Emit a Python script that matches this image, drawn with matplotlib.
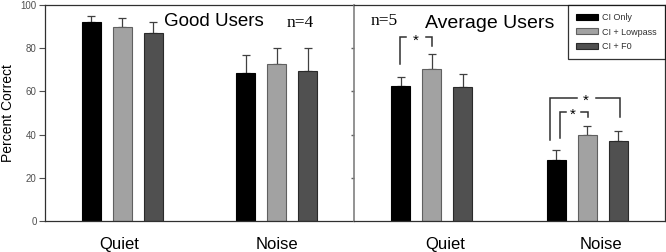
import numpy as np
import matplotlib.pyplot as plt

# data
conditions = ["Quiet", "Noise"]
series = ["CI Only", "CI + Lowpass", "CI + F0"]
good_means = [[92.1, 68.7], [89.8, 72.7], [87.2, 69.4]]
good_err = [[2.7, 8.2], [4.0, 7.5], [4.8, 10.5]]
avg_means = [[62.5, 28.2], [70.4, 39.8], [61.9, 37.0]]
avg_err = [[4.0, 4.5], [6.9, 4.3], [6.0, 4.5]]

face = ["#000000", "#a2a2a2", "#505050"]
edge = ["#000000", "#606060", "#2a2a2a"]

plt.rcParams['font.family'] = ['Liberation Sans', 'DejaVu Sans']

fig = plt.figure(figsize=(6.66, 2.52), dpi=100)
ax1 = fig.add_axes([45/666, 1-221/252, 309/666, 216/252])
ax2 = fig.add_axes([354/666, 1-221/252, 311/666, 216/252])

x = np.arange(len(conditions))
offs = [-0.2, 0.0, 0.2]
w = 0.123

def draw_panel(ax, means, errs):
    for k in range(3):
        ax.bar(x + offs[k], means[k], w, color=face[k], edgecolor=edge[k],
               linewidth=0.8, label=series[k], zorder=2)
        ax.errorbar(x + offs[k], means[k], yerr=[np.zeros(2), errs[k]], fmt="none",
                    ecolor="#404040", elinewidth=0.9, capsize=3, capthick=0.9, zorder=1)
    ax.set_xlim(-0.5, 1.5)
    ax.set_ylim(0, 100)
    ax.set_xticks([])
    for s in ["top", "bottom", "right", "left"]:
        ax.spines[s].set_color("#303030")
        ax.spines[s].set_linewidth(0.9)

draw_panel(ax1, good_means, good_err)
draw_panel(ax2, avg_means, avg_err)

ax1.spines["right"].set_visible(False)
ax1.set_yticks([0, 20, 40, 60, 80, 100])
ax1.tick_params(axis="y", length=4, width=0.8, color="#505050", labelsize=7,
                labelcolor="#505050", pad=2)
ax1.set_ylabel("Percent Correct", fontsize=10, labelpad=4)

ax2.spines["left"].set_color("#808080")
ax2.spines["left"].set_linewidth(1.2)
ax2.set_yticks([20, 40, 60, 80])
ax2.tick_params(axis="y", length=2.5, width=1, color="#606060", labelleft=False)

# condition labels under each panel
for ax, pos in [(ax1, [-0.02, 1.0]), (ax2, [0.085, 1.09])]:
    for p, lab in zip(pos, conditions):
        ax.text(p, -11, lab, ha="center", va="center", fontsize=12,
                transform=ax.transData, clip_on=False)

ax1.text(0.59, 92.5, "Good Users", ha="center", va="center", fontsize=13.5)
ax1.text(1.15, 91.5, "n=4", ha="center", va="center", fontsize=12.5,
         family=["Liberation Serif", "DejaVu Serif"])
ax2.text(-0.305, 92.5, "n=5", ha="center", va="center", fontsize=12.5,
         family=["Liberation Serif", "DejaVu Serif"])
ax2.text(0.37, 91.5, "Average Users", ha="center", va="center", fontsize=14)

# significance brackets
lc = "#303030"
def bracket(ax, x0, x1, xs, yl, yt, yr, gap_l, gap_r):
    ax.plot([x0, x0, gap_l], [yl, yt, yt], color=lc, lw=1.1, solid_joinstyle="miter")
    ax.plot([gap_r, x1, x1], [yt, yt, yr], color=lc, lw=1.1, solid_joinstyle="miter")
    ax.text(xs, yt - 1.5, "*", ha="center", va="center", fontsize=11)

bracket(ax2, -0.203, 0.003, -0.106, 72.7, 85.0, 81.2, -0.165, -0.035)
bracket(ax2, 0.76, 1.21, 0.99, 37.5, 57.1, 48.1, 0.932, 1.055)
bracket(ax2, 0.825, 1.008, 0.906, 38.4, 50.6, 48.1, 0.861, 0.958)

leg = ax2.legend(loc="upper right", bbox_to_anchor=(1.0, 1.0), borderaxespad=0,
                 fontsize=6.5, frameon=True, fancybox=False, edgecolor="#000000",
                 handlelength=2.4, handleheight=0.6, labelspacing=0.6,
                 borderpad=0.9, handletextpad=0.5)
leg.get_frame().set_linewidth(0.9)
for t in leg.get_texts():
    t.set_color("#303030")

fig.savefig("out.png", dpi=100)
